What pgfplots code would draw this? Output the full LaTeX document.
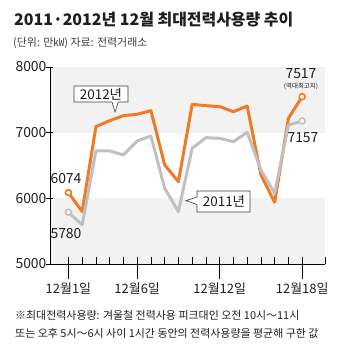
\documentclass[border=0pt]{standalone}
\usepackage{fontspec}
\setmainfont{Noto Sans CJK KR}
\usepackage{pgfplots}
\pgfplotsset{compat=1.18}
\definecolor{org}{RGB}{240,122,38}
\definecolor{gry}{RGB}{192,192,192}
\definecolor{band}{RGB}{242,242,242}
\definecolor{txt}{RGB}{30,30,30}

\pgfplotstableread{
day y2012 y2011
1  6087 5788
2  5800 5595
3  7092 6722
4  7183 6722
5  7259 6661
6  7280 6874
7  7335 6950
8  6508 6153
9  6254 5798
10 7432 6762
11 7411 6924
12 7396 6914
13 7320 6863
14 7406 7006
15 6356 6432
16 5940 6078
17 7219 7117
18 7548 7178
}\datatable

\begin{document}
\begin{tikzpicture}[x=1bp,y=1bp]
\useasboundingbox (0,0) rectangle (340,-357);
\node[anchor=west,inner sep=0,text=txt,font=\fontsize{16}{16}\selectfont\bfseries] at (14,-20) {2011·2012년 12월 최대전력사용량 추이};
\node[anchor=west,inner sep=0,text=txt!85,font=\fontsize{11}{11}\selectfont] at (13,-43) {(단위: 만㎾) 자료: 전력거래소};

\begin{axis}[
  at={(50bp,-264bp)}, anchor=south west,
  width=275bp, height=197bp, scale only axis,
  xmin=-0.34, xmax=19.66, ymin=5000, ymax=8000,
  axis x line*=bottom, axis y line*=left,
  axis line style={black, line width=0.8bp},
  axis on top, clip=false,
  tick align=inside,
  major tick length=7bp,
  tick style={black, line width=0.8bp},
  ytick={5000,6000,7000,8000},
  y tick style={xshift=-4bp},
  yticklabel style={font=\fontsize{14}{14}\selectfont, text=txt},
  /pgf/number format/assume math mode=true,
  /pgf/number format/1000 sep={},
  xtick={1,2,...,18,19.66},
  xticklabel=\empty,
  extra x ticks={1,6,12,18},
  extra x tick labels={12월1일,12월6일,12월12일,12월18일},
  extra x tick style={major tick length=22bp, tick style={yshift=-15bp, black, line width=0.8bp},
     tick label style={yshift=-15bp, font=\fontsize{13}{13}\selectfont, text=txt}},
]
\fill[band] (axis cs:-0.34,7000) rectangle (axis cs:19.66,8000);
\fill[band] (axis cs:-0.34,5000) rectangle (axis cs:19.66,6000);
\addplot[org, line width=3bp, line join=round, mark=*, mark indices={1,18},
  mark options={fill=white, draw=org, line width=1.6bp, scale=1.5}] table[x=day,y=y2012] {\datatable};
\addplot[gry, line width=3bp, line join=round, mark=*, mark indices={1,18},
  mark options={fill=white, draw=gry, line width=1.6bp, scale=1.5}] table[x=day,y=y2011] {\datatable};
\end{axis}

% value labels
\node[text=txt,font=\fontsize{14}{14}\selectfont,inner sep=0] at (66,-179) {6074};
\node[text=txt,font=\fontsize{14}{14}\selectfont,inner sep=0] at (66,-234) {5780};
\node[text=txt,font=\fontsize{14}{14}\selectfont,inner sep=0] at (301,-74) {7517};
\node[text=txt,font=\fontsize{6.5}{6.5}\selectfont,inner sep=0] at (301,-86) {(역대최고치)};
\node[text=txt,font=\fontsize{14}{14}\selectfont,inner sep=0] at (303,-138) {7157};

% callouts
\draw[fill=white, draw=black!75, line width=0.6bp, line join=miter]
  (74,-86) -- (128,-86) -- (128,-102) -- (118.3,-102) -- (115,-112) -- (112,-102) -- (74,-102) -- cycle;
\node[text=txt,font=\fontsize{13.5}{13.5}\selectfont,inner sep=0] at (101,-94) {2012년};
\draw[fill=white, draw=black!75, line width=0.6bp, line join=miter]
  (197,-191) -- (250,-191) -- (250,-212) -- (197,-212) -- (197,-204.5) -- (186,-200.7) -- (197,-197) -- cycle;
\node[text=txt,font=\fontsize{13.5}{13.5}\selectfont,inner sep=0] at (224,-201.5) {2011년};

% footnote
\node[anchor=west,inner sep=0,text=txt,font=\fontsize{11}{11}\selectfont] at (15,-315) {※최대전력사용량: 겨울철 전력사용 피크대인 오전 10시～11시};
\node[anchor=west,inner sep=0,text=txt,font=\fontsize{11}{11}\selectfont] at (15,-333) {또는 오후 5시～6시 사이 1시간 동안의 전력사용량을 평균해 구한 값};
\end{tikzpicture}
\end{document}
